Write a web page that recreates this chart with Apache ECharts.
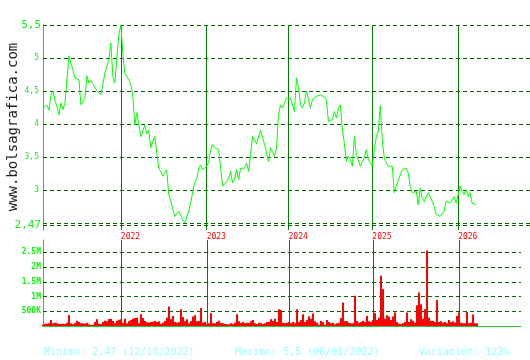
<!DOCTYPE html>
<html><head><meta charset="utf-8">
<script src="https://cdn.jsdelivr.net/npm/echarts@6/dist/echarts.min.js"></script>
<style>html,body{margin:0;padding:0;background:#fff}#c{width:530px;height:360px}</style>
</head><body><div id="c"></div>
<script>
// Closing prices, one sample per period (Feb 2021 .. Mar 2026)
const prices = [
4.24,4.24,4.29,4.21,4.44,4.50,4.36,4.26,4.14,4.32,
4.22,4.32,4.32,5.03,4.92,4.82,4.70,4.70,4.67,4.29,
4.32,4.39,4.73,4.62,4.66,4.62,4.55,4.51,4.50,4.44,
4.46,4.77,4.74,4.98,5.23,4.72,4.62,5.00,5.35,5.50,
5.08,4.77,4.79,4.67,4.60,4.42,3.99,4.17,4.19,3.81,
3.79,3.98,3.85,3.91,
3.64,3.74,3.81,3.84,3.33,3.28,3.21,3.26,3.31,2.93,
2.83,2.83,2.60,2.58,2.68,2.65,2.55,2.50,2.47,2.68,
2.80,2.98,3.11,3.16,3.33,3.38,3.31,3.33,3.36,3.42,
3.61,3.69,3.64,3.67,3.61,3.33,3.06,3.08,3.13,3.17,
3.28,3.11,3.16,3.31,3.16,3.33,3.36,3.33,3.41,3.28,
3.54,3.81,3.81,3.70,3.69,
3.91,3.79,3.69,3.56,3.43,3.64,3.61,3.51,3.64,4.14,
4.29,4.24,4.23,4.39,4.42,4.39,4.41,4.19,4.70,4.55,
4.29,4.24,4.32,4.50,4.37,4.24,4.37,4.39,4.42,4.42,
4.44,4.44,4.41,4.37,4.04,4.07,4.07,4.19,4.09,4.24,
4.29,3.91,3.71,3.43,3.51,3.46,3.36,3.81,3.54,3.54,
3.36,3.43,3.49,3.61,3.46,
3.41,3.36,3.61,3.81,3.89,4.28,3.74,3.49,3.41,3.36,
3.38,3.36,2.96,3.06,3.08,3.23,3.31,3.31,3.33,3.26,
3.06,2.96,2.93,2.98,2.78,3.03,2.88,2.83,2.85,2.96,
2.90,2.83,2.75,2.63,2.63,2.60,2.60,2.68,2.83,2.83,
2.80,2.83,2.90,2.80,2.78,3.06,2.98,2.93,3.01,2.90,
2.96,2.80,2.80,2.78
];
// Volume per period, thousands of shares
const volumes = [
45,80,80,91,205,91,114,91,80,68,
80,68,114,375,91,57,91,182,136,91,
91,80,114,57,34,45,136,227,80,68,
136,182,159,239,239,170,91,170,216,227,
114,250,91,159,205,250,273,284,91,398,
273,170,125,114,136,148,170,136,159,80,
114,170,284,659,227,341,136,114,136,568,
307,159,227,91,170,318,364,159,170,614,
114,136,68,91,432,91,91,136,182,102,
91,68,57,57,91,68,114,398,159,102,
136,91,114,102,159,205,91,68,114,
91,68,91,136,136,227,170,250,136,568,
545,114,91,114,136,91,136,91,568,136,
205,398,136,205,330,250,420,159,114,45,
170,136,45,205,136,91,114,57,91,114,
273,795,159,170,114,91,91,1023,170,114,
136,170,136,341,159,136,205,432,205,284,
1705,1250,250,364,318,205,318,455,136,80,
68,91,136,455,136,227,182,114,705,1136,
739,250,568,2557,284,170,170,136,886,136,
159,114,136,91,205,136,159,114,341,455,
114,91,91,477,91,114,386,91,91
];
const yearLabels = ['2022','2023','2024','2025','2026'];
const yearIndex = [39, 82, 123, 165, 208];
const priceTicks = [5.5, 5, 4.5, 4, 3.5, 3, 2.5, 2.47];
const priceTickLabels = ['5,5','5','4,5','4','3,5','3','','2,47'];
const volumeTicks = [500, 1000, 1500, 2000, 2500];
const volumeTickLabels = ['500K','1M','1.5M','2M','2.5M'];
const footerTexts = ['Minimo: 2,47 (12/10/2022)', 'Maximo: 5,5 (06/01/2022)', 'Variación: 123%'];
const siteName = 'www.bolsagrafica.com';

const priceCats = Array.from({length: 245}, (_, i) => String(i));
const volCats = Array.from({length: 240}, (_, i) => String(i));
const isYear = (i) => yearIndex.indexOf(i) >= 0;
const mono = '"DejaVu Sans Mono", monospace';
const labelGreen = '#11ee11';
const gridDash = {type: [4, 3], color: '#006400', width: 1};

const chart = echarts.init(document.getElementById('c'));
chart.setOption({
  animation: false,
  backgroundColor: '#ffffff',
  grid: [
    {left: 43, top: 25, width: 488, height: 205},
    {left: 43, top: 240, width: 478, height: 86}
  ],
  xAxis: [
    {type: 'category', gridIndex: 0, data: priceCats, boundaryGap: false,
     axisLine: {show: false}, axisTick: {show: false},
     axisLabel: {interval: (i) => isYear(i),
       formatter: (v, i) => { const k = yearIndex.indexOf(i); return k >= 0 ? yearLabels[k] : ''; },
       color: '#ff0000', fontSize: 8, fontFamily: mono, align: 'left', margin: 3},
     splitLine: {show: true, interval: (i) => isYear(i), lineStyle: {color: '#008000', width: 1}}},
    {type: 'category', gridIndex: 1, data: volCats, boundaryGap: false,
     axisLine: {show: true, lineStyle: {color: '#22cc22', width: 1}}, axisTick: {show: false},
     axisLabel: {show: false},
     splitLine: {show: true, interval: (i) => isYear(i), lineStyle: {color: '#008000', width: 1}}}
  ],
  yAxis: [
    {type: 'value', gridIndex: 0, min: 2.394, max: 5.5,
     axisLine: {show: true, lineStyle: {color: '#22cc22', width: 1}},
     axisTick: {show: false}, axisLabel: {show: false}, splitLine: {show: false}},
    {type: 'value', gridIndex: 1, min: 0, max: 2917,
     axisLine: {show: true, lineStyle: {color: '#22cc22', width: 1}},
     axisTick: {show: false}, axisLabel: {show: false}, splitLine: {show: false}}
  ],
  series: [
    {type: 'line', xAxisIndex: 0, yAxisIndex: 0, data: prices, showSymbol: false, symbol: 'none',
     lineStyle: {color: '#00ff00', width: 1}, z: 3,
     markLine: {silent: true, symbol: ['none', 'none'], animation: false, z: 2,
       lineStyle: gridDash,
       data: priceTicks.map((v, k) => {
         const big = (k === 0 || k === priceTicks.length - 1);
         return {yAxis: v, label: {show: priceTickLabels[k] !== '', formatter: priceTickLabels[k],
           position: 'start', distance: big ? 2 : 4, fontSize: big ? 11 : 8, fontFamily: mono, color: labelGreen}};
       })}},
    {type: 'bar', xAxisIndex: 1, yAxisIndex: 1, data: volumes, barWidth: 2,
     itemStyle: {color: '#ff0000'}, z: 3,
     markLine: {silent: true, symbol: ['none', 'none'], animation: false, z: 2,
       lineStyle: gridDash,
       data: volumeTicks.map((v, k) => ({yAxis: v, label: {formatter: volumeTickLabels[k],
         position: 'start', distance: 2, fontSize: 8, fontWeight: 'bold', fontFamily: mono, color: labelGreen}}))}}
  ],
  graphic: [
    {type: 'text', x: 13, y: 127, rotation: Math.PI / 2,
     style: {text: siteName, font: '14px "DejaVu Sans Mono", monospace', fill: '#222222', align: 'center', verticalAlign: 'middle'}},
    {type: 'text', x: 44, y: 352, style: {text: footerTexts[0], font: '10px "DejaVu Sans Mono", monospace', fill: '#99ffff', verticalAlign: 'middle'}},
    {type: 'text', x: 235, y: 352, style: {text: footerTexts[1], font: '10px "DejaVu Sans Mono", monospace', fill: '#99ffff', verticalAlign: 'middle'}},
    {type: 'text', x: 419, y: 352, style: {text: footerTexts[2], font: '10px "DejaVu Sans Mono", monospace', fill: '#99ffff', verticalAlign: 'middle'}}
  ]
});
</script>
</body></html>
